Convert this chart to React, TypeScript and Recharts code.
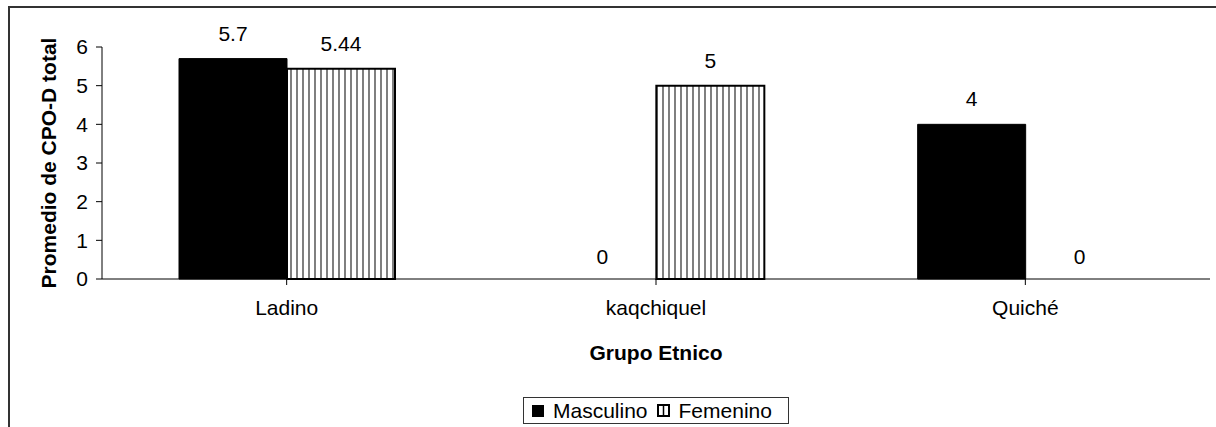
import {BarChart, Bar, XAxis, YAxis, Legend, LabelList, Rectangle} from 'recharts';

const grupos = ['Ladino', 'kaqchiquel', 'Quiché'];
const masculino = [5.7, 0, 4];
const femenino = [5.44, 5, 0];
const yTicks = [0, 1, 2, 3, 4, 5, 6];

const data = grupos.map((g, i) => ({grupo: g, masculino: masculino[i], femenino: femenino[i]}));

const FONT = '"Liberation Sans", Arial, sans-serif';

// value above each bar, zero values included (those sit a bit closer to the axis)
const ValueLabel = (props: any) => {
    const {x, y, width, value} = props;
    if (value === undefined || value === null) return null;
    const gap = Number(value) === 0 ? 14 : 18;
    return (
        <text x={Number(x) + Number(width) / 2} y={Number(y) - gap} textAnchor="middle" fill="#000" fontSize={21}>
            {value}
        </text>
    );
};

// zero bars keep their slot (so the "0" label is drawn) but paint nothing
const makeShape = (key: string) => (props: any) => {
    if (!props.payload || props.payload[key] === 0) return <g/>;
    return <Rectangle {...props}/>;
};

const LegendBox = () => (
    <div
        style={{
            width: 264,
            height: 25,
            border: '1px solid #333',
            background: '#fff',
            display: 'flex',
            alignItems: 'center',
            fontFamily: FONT,
            fontSize: 21,
            color: '#000',
            boxSizing: 'content-box',
        }}
    >
        <span style={{width: 12, height: 12, background: '#000', marginLeft: 8, marginRight: 9}}/>
        <span>Masculino</span>
        <svg width={13} height={13} style={{marginLeft: 9, marginRight: 9}}>
            <rect x={1} y={1} width={11} height={11} fill="#fff" stroke="#000" strokeWidth={2}/>
            <line x1={6.5} y1={1} x2={6.5} y2={12} stroke="#000" strokeWidth={1.5}/>
        </svg>
        <span>Femenino</span>
    </div>
);

export default function App() {
    return (
        <div style={{position: 'fixed', left: 0, top: 0, width: 1216, height: 427, overflow: 'hidden', background: '#fff'}}>
            {/* outer chart frame, only top and left edges show */}
            <div style={{position: 'absolute', left: 8, top: 6, width: 1400, height: 700, border: '2px solid #333'}}/>
            <div style={{position: 'absolute', left: 0, top: 0}}>
                <BarChart
                    width={1216}
                    height={427}
                    data={data}
                    margin={{top: 47, right: 6, bottom: 0, left: 0}}
                    barGap={0}
                    barSize={108}
                    style={{fontFamily: FONT}}
                >
                    <defs>
                        <pattern id="vstripes" x="0" y="0" width="6" height="10" patternUnits="userSpaceOnUse">
                            <rect x="0" y="0" width="6" height="10" fill="#fff"/>
                            <line x1="3" y1="0" x2="3" y2="10" stroke="#3a3a3a" strokeWidth={1.3}/>
                        </pattern>
                    </defs>
                    <XAxis
                        dataKey="grupo"
                        height={148}
                        tickSize={6}
                        tickMargin={15}
                        axisLine={{stroke: '#000'}}
                        tickLine={{stroke: '#000'}}
                        tick={{fill: '#000', fontSize: 21}}
                        interval={0}
                        label={{
                            value: 'Grupo Etnico',
                            position: 'insideTop',
                            offset: 66,
                            style: {fill: '#000', fontSize: 21, fontWeight: 'bold'},
                        }}
                    />
                    <YAxis
                        width={102}
                        domain={[0, 6]}
                        ticks={yTicks}
                        tickSize={6}
                        tickMargin={8}
                        axisLine={{stroke: '#000'}}
                        tickLine={{stroke: '#000'}}
                        tick={{fill: '#000', fontSize: 21}}
                        label={{
                            value: 'Promedio de CPO-D total',
                            angle: -90,
                            position: 'insideLeft',
                            offset: 49,
                            style: {textAnchor: 'middle', fill: '#000', fontSize: 21, fontWeight: 'bold'},
                        }}
                    />
                    <Legend
                        layout="horizontal"
                        verticalAlign="middle"
                        align="center"
                        wrapperStyle={{position: 'absolute', left: 523, top: 397, width: 'auto'}}
                        content={() => <LegendBox/>}
                    />
                    <Bar
                        dataKey="masculino"
                        name="Masculino"
                        fill="#000"
                        stroke="#000"
                        strokeWidth={1}
                        minPointSize={1}
                        shape={makeShape('masculino')}
                        isAnimationActive={false}
                    >
                        <LabelList dataKey="masculino" content={ValueLabel}/>
                    </Bar>
                    <Bar
                        dataKey="femenino"
                        name="Femenino"
                        fill="url(#vstripes)"
                        stroke="#000"
                        strokeWidth={2}
                        minPointSize={1}
                        shape={makeShape('femenino')}
                        isAnimationActive={false}
                    >
                        <LabelList dataKey="femenino" content={ValueLabel}/>
                    </Bar>
                </BarChart>
            </div>
        </div>
    );
}
